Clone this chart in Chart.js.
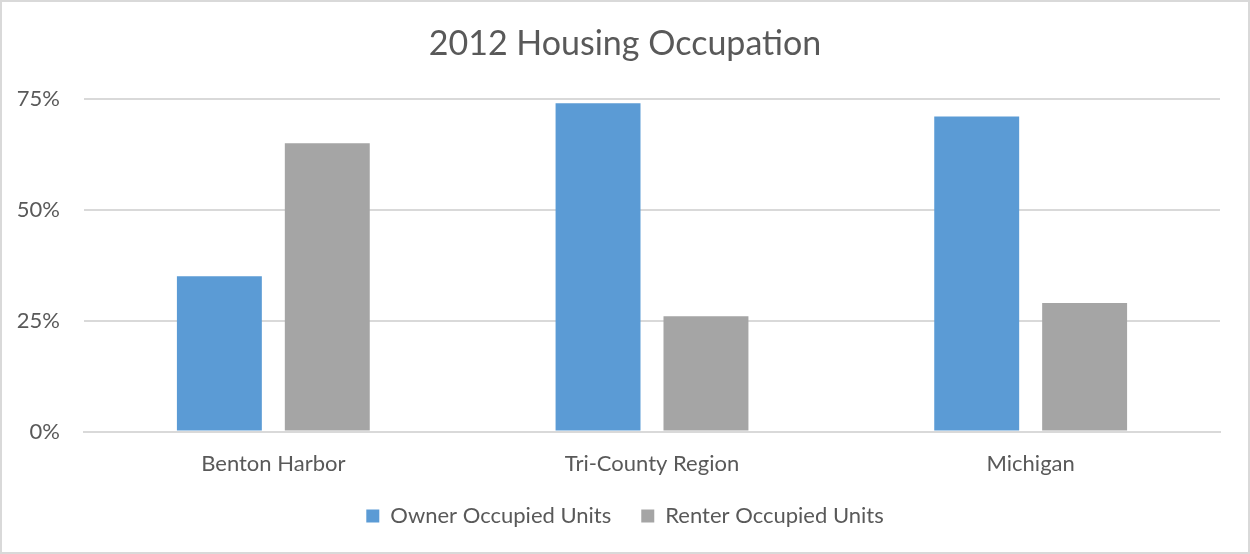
<!DOCTYPE html>
<html>
<head>
<meta charset="utf-8">
<script src="https://cdn.jsdelivr.net/npm/chart.js@4"></script>
<style>
  html, body { margin: 0; padding: 0; background: #fff; }
  #wrap { position: relative; width: 1250px; height: 554px; }
  #wrap canvas { position: absolute; left: 0; top: 0; }
</style>
</head>
<body>
<div id="wrap"><canvas id="myChart" width="1250" height="554"></canvas></div>
<script>
var categories = ['Benton Harbor', 'Tri-County Region', 'Michigan'];
var ownerUnits = [0.35, 0.74, 0.71];
var renterUnits = [0.65, 0.26, 0.29];
var yTicks = [0, 0.25, 0.5, 0.75];

var textColor = '#595959';
var fontName = 'Lato';

// light frame round the whole chart
var framePlugin = {
    id: 'frame',
    afterDraw: function(chart){
        var c = chart.ctx;
        c.save();
        c.strokeStyle = '#d9d9d9';
        c.lineWidth = 2;
        c.strokeRect(1, 1, chart.width - 2, chart.height - 2);
        c.restore();
    }
};

var ctx = document.getElementById('myChart').getContext('2d');
new Chart(ctx, {
    type: 'bar',
    data: {
        labels: categories,
        datasets: [{
            label: 'Owner Occupied Units',
            data: ownerUnits,
            backgroundColor: '#5b9bd5',
            categoryPercentage: 0.57,
            barPercentage: 0.787
        }, {
            label: 'Renter Occupied Units',
            data: renterUnits,
            backgroundColor: '#a5a5a5',
            categoryPercentage: 0.57,
            barPercentage: 0.787
        }]
    },
    plugins: [framePlugin],
    options: {
        responsive: false,
        animation: false,
        layout: { padding: { left: 0, right: 0, top: 0, bottom: 17 } },
        plugins: {
            title: {
                display: true,
                text: '2012 Housing Occupation',
                color: textColor,
                font: { family: fontName, size: 34, weight: 'normal' },
                padding: { top: 24, bottom: 34 }
            },
            legend: {
                position: 'bottom',
                labels: {
                    color: textColor,
                    font: { family: fontName, size: 22 },
                    boxWidth: 13,
                    boxHeight: 13,
                    padding: 30
                }
            },
            tooltip: { enabled: false }
        },
        scales: {
            x: {
                grid: { display: false, drawTicks: false },
                border: { color: '#d9d9d9', width: 2 },
                ticks: { color: textColor, font: { family: fontName, size: 22 }, padding: 19 },
                afterFit: function(scale){ scale.height = scale.height - 21; }
            },
            y: {
                min: 0,
                max: 0.75,
                afterFit: function(scale){ scale.width = 84; },
                afterBuildTicks: function(scale){
                    scale.ticks = yTicks.map(function(v){ return { value: v }; });
                },
                border: { display: false },
                grid: { color: '#d9d9d9', lineWidth: 2, drawTicks: false },
                ticks: {
                    color: textColor,
                    font: { family: fontName, size: 22 },
                    padding: 24,
                    callback: function(v){ return Math.round(v * 100) + '%'; }
                }
            },
            // empty right margin so the title and legend centre on the whole frame
            yRight: {
                position: 'right',
                grid: { display: false },
                border: { display: false },
                ticks: { display: false },
                afterFit: function(scale){ scale.width = 30; }
            }
        }
    }
});
</script>
</body>
</html>
